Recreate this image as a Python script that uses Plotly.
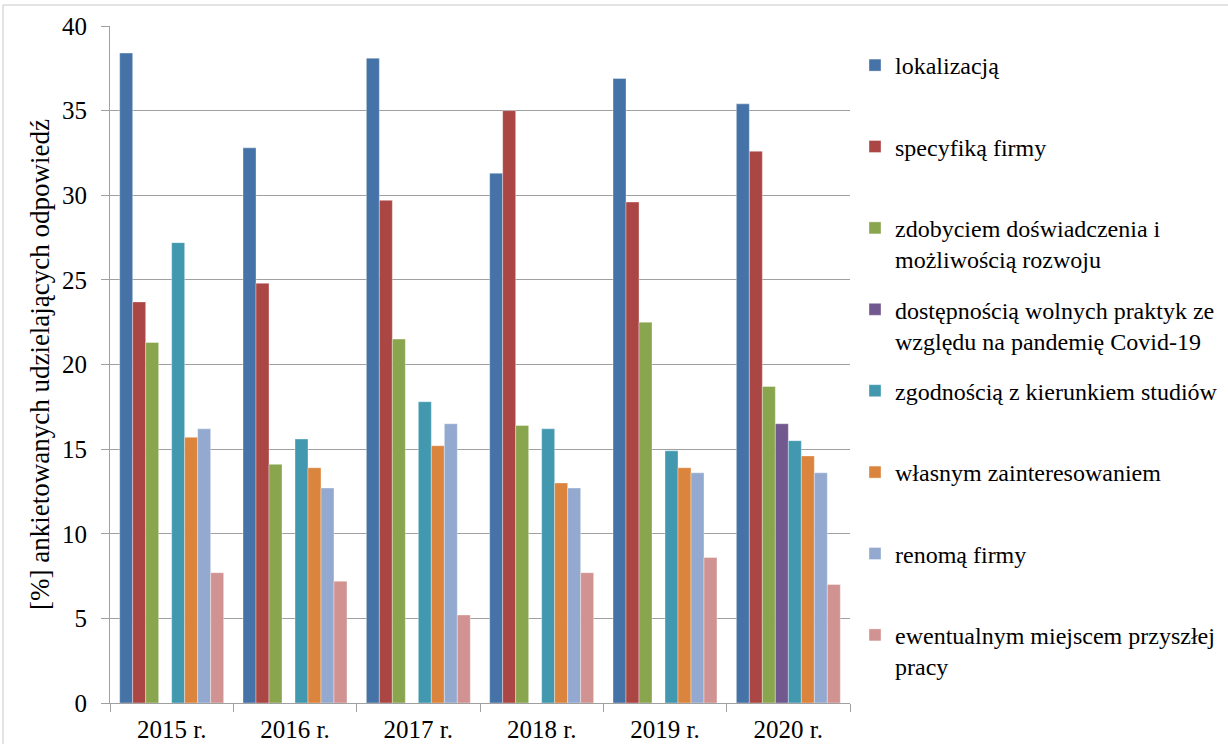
import plotly.graph_objects as go

categories = ["2015 r.", "2016 r.", "2017 r.", "2018 r.", "2019 r.", "2020 r."]

series_names = [
    "lokalizacją",
    "specyfiką firmy",
    "zdobyciem doświadczenia i<br>możliwością rozwoju",
    "dostępnością wolnych praktyk ze<br>względu na pandemię Covid-19",
    "zgodnością z kierunkiem studiów",
    "własnym zainteresowaniem",
    "renomą firmy",
    "ewentualnym miejscem przyszłej<br>pracy",
]

lokalizacja = [38.4, 32.8, 38.1, 31.3, 36.9, 35.4]
specyfika = [23.7, 24.8, 29.7, 35.0, 29.6, 32.6]
doswiadczenie = [21.3, 14.1, 21.5, 16.4, 22.5, 18.7]
pandemia = [None, None, None, None, None, 16.5]
zgodnosc = [27.2, 15.6, 17.8, 16.2, 14.9, 15.5]
zainteresowanie = [15.7, 13.9, 15.2, 13.0, 13.9, 14.6]
renoma = [16.2, 12.7, 16.5, 12.7, 13.6, 13.6]
przyszla_praca = [7.7, 7.2, 5.2, 7.7, 8.6, 7.0]

values = [lokalizacja, specyfika, doswiadczenie, pandemia, zgodnosc,
          zainteresowanie, renoma, przyszla_praca]
colors = ["#4572A7", "#AA4643", "#89A54E", "#71588F",
          "#4198AF", "#DB843D", "#93A9CF", "#D19392"]

W, H = 1228, 744
L, R, T, B = 110, 378, 26, 41
FONT = "Liberation Serif"

fig = go.Figure()
for i, (name, vals, col) in enumerate(zip(series_names, values, colors)):
    label = name if "<br>" in name else name + "<br> "
    fig.add_trace(go.Bar(
        x=categories, y=vals, name=label,
        marker=dict(color=col, line=dict(color="rgba(255,255,255,0.6)", width=0.6)),
        legendgroup=f"g{i}",
    ))

pw = W - L - R
ph = H - T - B

fig.update_layout(
    width=W, height=H,
    margin=dict(l=L, r=R, t=T, b=B, pad=0, autoexpand=False),
    paper_bgcolor="white", plot_bgcolor="white",
    barmode="group", bargap=0.157, bargroupgap=0,
    font=dict(family=FONT, size=24, color="black"),
    showlegend=True,
    legend=dict(
        x=(855 - L) / pw, xanchor="left",
        y=1 - (43 - T) / ph, yanchor="top",
        font=dict(family=FONT, size=24, color="black"),
        valign="top",
        tracegroupgap=16,
        itemwidth=30,
        bgcolor="rgba(0,0,0,0)",
    ),
    xaxis=dict(
        showgrid=False, showline=True, linecolor="#A0A0A0", linewidth=1,
        ticks="outside", tickson="boundaries", ticklen=8, tickcolor="#A0A0A0",
        tickfont=dict(family=FONT, size=25, color="black"),
        ticklabelstandoff=4,
    ),
    yaxis=dict(
        range=[0, 40], dtick=5, showgrid=True, gridcolor="#A0A0A0", gridwidth=1,
        showline=True, linecolor="#A0A0A0", linewidth=1,
        ticks="outside", ticklen=8, tickcolor="#A0A0A0",
        tickfont=dict(family=FONT, size=25, color="black"),
        ticklabelstandoff=9,
        title=dict(text="[%] ankietowanych udzielających odpowiedź",
                   font=dict(family=FONT, size=27, color="black"), standoff=4),
        zeroline=False,
    ),
    shapes=[dict(type="rect", xref="paper", yref="paper",
                 x0=(3 - L) / pw, x1=(W + 20 - L) / pw,
                 y0=-(B + 20) / ph, y1=1 + (T - 5) / ph,
                 line=dict(color="#C8C8C8", width=1), layer="below")],
)

fig.write_html("out.html", config={"displayModeBar": False},
               post_script="document.body.style.margin='0';")
